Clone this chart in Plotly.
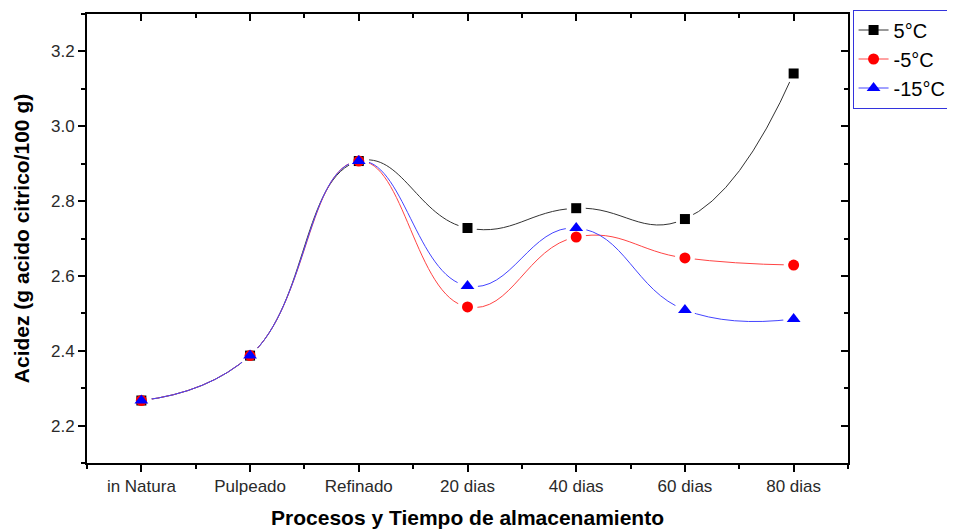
import plotly.graph_objects as go

categories = ["in Natura", "Pulpeado", "Refinado", "20 dias", "40 dias", "60 dias", "80 dias"]
series_names = ["5°C", "-5°C", "-15°C"]
acidez_5 = [2.267, 2.387, 2.907, 2.728, 2.781, 2.752, 3.141]
acidez_m5 = [2.267, 2.387, 2.907, 2.517, 2.704, 2.648, 2.629]
acidez_m15 = [2.267, 2.387, 2.907, 2.573, 2.728, 2.509, 2.485]
y_ticks = [2.2, 2.4, 2.6, 2.8, 3.0, 3.2]

colors = ["#000000", "#ff0000", "#0000ff"]
line_colors = ["#333333", "#ff4444", "#4444ff"]
symbols = ["square", "circle", "triangle-up"]
sizes = [10, 11, 12]
xs = list(range(len(categories)))
all_vals = [acidez_5, acidez_m5, acidez_m15]

fig = go.Figure()
# lines (carry the legend)
for name, vals, c, lc, s, sz in zip(series_names, all_vals, colors, line_colors, symbols, sizes):
    fig.add_trace(go.Scatter(
        x=xs, y=vals, name=name, mode="lines+markers", legendgroup=name,
        line=dict(color=lc, width=1, shape="spline", smoothing=1.3),
        marker=dict(symbol=s, size=sz, color=c, line=dict(width=0)),
    ))
# white halos to create gaps of the line around the markers
for name, vals, sz in zip(series_names, all_vals, sizes):
    fig.add_trace(go.Scatter(
        x=xs, y=vals, mode="markers", legendgroup=name, showlegend=False, hoverinfo="skip",
        marker=dict(symbol="circle", size=sz + 9, color="white", line=dict(width=0)),
    ))
# markers on top
for name, vals, c, s, sz in zip(series_names, all_vals, colors, symbols, sizes):
    fig.add_trace(go.Scatter(
        x=xs, y=vals, name=name, mode="markers", legendgroup=name, showlegend=False,
        marker=dict(symbol=s, size=sz, color=c, line=dict(width=0)),
    ))

# invisible trace to carry the mirrored (inside-tick) top/right axes
fig.add_trace(go.Scatter(x=xs, y=acidez_5, xaxis="x2", yaxis="y2", mode="markers",
                         marker=dict(opacity=0), showlegend=False, hoverinfo="skip"))

font_family = "Liberation Sans, Arial, sans-serif"
tick_font = dict(size=17, color="#2a2a2a")
fig.update_layout(
    width=955, height=531,
    margin=dict(l=79, r=115, t=6, b=76, autoexpand=False),
    paper_bgcolor="white", plot_bgcolor="white",
    font=dict(family=font_family, color="#222222"),
    showlegend=True,
    legend=dict(x=1.006, y=1.01, xanchor="left", yanchor="top",
                bordercolor="#3333dd", borderwidth=1, bgcolor="white",
                font=dict(size=20, color="#000000"), tracegroupgap=0,
                itemwidth=30),
    xaxis=dict(
        range=[-0.5, 6.5], tickmode="array", tickvals=xs, ticktext=categories, automargin=False,
        ticks="outside", ticklen=7, tickwidth=2, tickcolor="black",
        showline=True, linecolor="black", linewidth=2, showgrid=False, zeroline=False,
        tickfont=tick_font,
        minor=dict(tickmode="linear", tick0=-0.5, dtick=1, ticks="outside", ticklen=4, tickwidth=2, tickcolor="black", showgrid=False),
        title=dict(text="<b>Procesos y Tiempo de almacenamiento</b>", font=dict(size=21, color="#000000"), standoff=15),
    ),
    yaxis=dict(
        range=[2.1, 3.3], tickmode="array", tickvals=y_ticks, tickformat=".1f", automargin=False,
        ticks="outside", ticklen=7, tickwidth=2, tickcolor="black",
        showline=True, linecolor="black", linewidth=2, showgrid=False, zeroline=False,
        tickfont=tick_font,
        minor=dict(tickmode="linear", tick0=2.1, dtick=0.2, ticks="outside", ticklen=4, tickwidth=2, tickcolor="black", showgrid=False),
        title=dict(text="<b>Acidez (g acido citrico/100 g)</b>", font=dict(size=21, color="#000000"), standoff=16),
    ),
    xaxis2=dict(
        overlaying="x", side="top", range=[-0.5, 6.5], tickmode="array", tickvals=xs, automargin=False,
        showticklabels=False, ticks="inside", ticklen=7, tickwidth=2, tickcolor="black",
        showline=True, linecolor="black", linewidth=2, showgrid=False, zeroline=False,
        minor=dict(tickmode="linear", tick0=-0.5, dtick=1, ticks="inside", ticklen=4, tickwidth=2, tickcolor="black", showgrid=False),
    ),
    yaxis2=dict(
        overlaying="y", side="right", range=[2.1, 3.3], tickmode="array", tickvals=y_ticks, automargin=False,
        showticklabels=False, ticks="inside", ticklen=7, tickwidth=2, tickcolor="black",
        showline=True, linecolor="black", linewidth=2, showgrid=False, zeroline=False,
        minor=dict(tickmode="linear", tick0=2.1, dtick=0.2, ticks="inside", ticklen=4, tickwidth=2, tickcolor="black", showgrid=False),
    ),
)

fig.write_html("out.html")
